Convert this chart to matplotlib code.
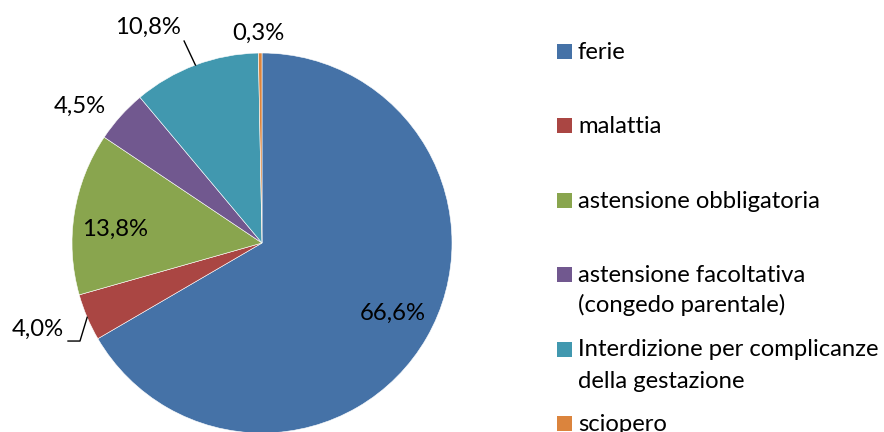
import numpy as np
import matplotlib
matplotlib.use("Agg")
import matplotlib.pyplot as plt
from matplotlib.patches import Rectangle

plt.rcParams['font.family'] = ['Lato', 'DejaVu Sans']

categories = ["ferie", "malattia", "astensione obbligatoria",
              "astensione facoltativa\n(congedo parentale)",
              "Interdizione per complicanze\ndella gestazione", "sciopero"]
values = [66.6, 4.0, 13.8, 4.5, 10.8, 0.3]
colors = ["#4572A7", "#AA4643", "#89A54E", "#71588F", "#4198AF", "#DB843D"]

FS = 17.2

fig = plt.figure(figsize=(8.84, 4.32), dpi=100)
R = 190  # pie radius in pixels
cx, cy = 262, 432 - 243
ax = fig.add_axes([(cx - R) / 884, (cy - R) / 432, 2 * R / 884, 2 * R / 432])

wedges, _ = ax.pie(values, colors=colors, startangle=90, counterclock=False,
                   radius=1, wedgeprops=dict(edgecolor="white", linewidth=0.4))
for w in wedges:
    w.set_clip_on(False)
ax.set_xlim(-1, 1)
ax.set_ylim(-1, 1)
ax.set_aspect("equal")
ax.axis("off")

def fmt(v):
    return ("%.1f%%" % v).replace(".", ",")

# label positions (data coords of the pie axes)
label_pos = [(0.689, -0.368), (-1.179, -0.453), (-0.774, 0.074),
             (-0.958, 0.721), (-0.60, 1.137), (-0.02, 1.105)]
for v, (x, y) in zip(values, label_pos):
    ax.text(x, y, fmt(v), ha="center", va="center", fontsize=FS, color="black",
            clip_on=False)

# leader lines
def edge_point(i):
    start = 90 - sum(values[:i]) * 3.6
    mid = np.deg2rad(start - values[i] * 1.8)
    return np.cos(mid), np.sin(mid)

ex, ey = edge_point(1)
ax.plot([-1.021, -0.958, ex], [-0.516, -0.516, ey], color="black", lw=1, clip_on=False)
ex, ey = edge_point(4)
ax.plot([-0.410, ex], [1.063, ey], color="black", lw=1, clip_on=False)

# legend
row_y = [51.5, 125.5, 200, 274, 349, 423.5]
for lab, col, y in zip(categories, colors, row_y):
    fig.patches.append(Rectangle((557 / 884, (432 - y - 7.5) / 432), 15 / 884, 15 / 432,
                                 transform=fig.transFigure, facecolor=col, edgecolor="none"))
    for k, line in enumerate(lab.split("\n")):
        base = y + 7.5 + 31 * k
        fig.text(578 / 884, (432 - base) / 432, line, ha="left", va="baseline",
                 fontsize=FS, transform=fig.transFigure)

fig.savefig("out.png", dpi=100)
